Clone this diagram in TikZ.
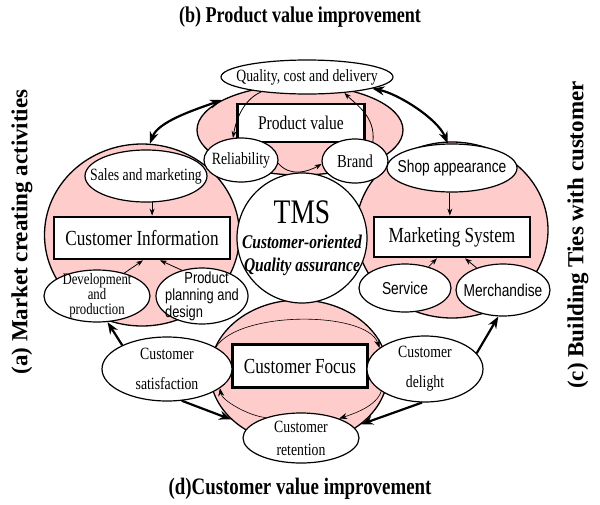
\documentclass[tikz,border=0pt]{standalone}
\usepackage{fontspec}
\setmainfont{Liberation Serif}[FakeStretch=0.8]
\setsansfont{Liberation Sans}[FakeStretch=0.8]
\newfontfamily\sidefont{Liberation Serif}
\usetikzlibrary{arrows.meta,shapes,positioning}
\definecolor{blush}{RGB}{255,204,204}
\newcommand{\fsize}[2]{\fontsize{#1}{#2}\selectfont}
\tikzset{
  %define style for the pink areas
  blob/.style={
    ellipse,
    draw=black, line width=1.3pt,
    fill=blush},
  %define style for ovals
  oval/.style={
    ellipse,
    draw=black, line width=1.2pt,
    fill=white,
    inner sep=0pt},
  %define style for the words in the ovals
  ovaltext/.style={
    inner sep=0pt,
    align=center,
    font=\fsize{17.2}{19}},
  %define style for boxes
  kbox/.style={
    rectangle,
    draw=black, line width=2.7pt,
    fill=white,
    inner sep=0pt,
    font=\fsize{21.5}{23}},
  %define style for the side titles
  sidetitle/.style={
    font=\sidefont\bfseries\fsize{23}{25},
    rotate=90},
  %define style for arrows
  bigarrow/.style={
    -{Stealth[length=12pt, width=9pt]},
    line width=2.2pt},
  bigboth/.style={
    {Stealth[length=12pt, width=9pt]}-{Stealth[length=12pt, width=9pt]},
    line width=2.2pt},
  midarrow/.style={
    -{Stealth[length=7pt, width=5pt]},
    thick},
  thinarrow/.style={
    -{Stealth[length=8pt, width=6pt]},
    semithick}
}
\begin{document}
\begin{tikzpicture}[x=1pt, y=-1pt]
\useasboundingbox (0,0) rectangle (600,504);
%titles
\node[font=\bfseries\fsize{22.6}{24}] (btitle) at (300,17) {(b) Product value improvement};
\node[font=\bfseries\fsize{23.6}{25}] (dtitle) at (300,489) {(d)Customer value improvement};
\node[sidetitle] (atitle) at (22,232) {(a) Market creating activities};
\node[sidetitle] (ctitle) at (578,235) {(c) Building Ties with customer};

%pink areas
\node[blob, minimum width=206, minimum height=90] (topblob) at (300,130) {};
\node[blob, minimum width=195, minimum height=182] (leftblob) at (142,235) {};
\node[blob, minimum width=192, minimum height=176] (rightblob) at (452,230) {};
\node[blob, minimum width=178, minimum height=144] (bottomblob) at (299,372) {};

%centre
\node[circle, draw=black, line width=1.2pt, fill=white, minimum size=130, inner sep=0pt] (tms) at (302,238) {};
\node[ovaltext, font=\fsize{19.4}{23}] (tmstxt) at (tms)
     {{\fsize{34.4}{36}TMS}\\[2pt]
      {\bfseries\itshape Customer-oriented}\\{\bfseries\itshape Quality assurance}};

%product value
\node[oval, minimum width=172, minimum height=34] (quality) at (307,77) {};
\node[ovaltext] (qualitytxt) at (quality) {Quality, cost and delivery};
\node[kbox, minimum width=127, minimum height=38, font=\fsize{19.4}{21},
      below=8pt of quality, xshift=-6pt] (pvalue) {Product value};
\node[oval, minimum width=74, minimum height=44] (reliab) at (241,160) {};
\node[ovaltext] (reliabtxt) at (reliab) {Reliability};
\node[oval, minimum width=66, minimum height=44] (brand) at (355,161) {};
\node[ovaltext, font=\fsize{18.3}{20}] (brandtxt) at (brand) {Brand};

%market creating
\node[oval, minimum width=122, minimum height=52] (sales) at (146,176) {};
\node[ovaltext] (salestxt) at (sales) {Sales and marketing};
\node[kbox, minimum width=176, minimum height=42,
      below=13pt of sales, xshift=-4pt] (cinfo) {Customer Information};
\node[oval, minimum width=106, minimum height=52] (devel) at (97,296) {};
\node[ovaltext, font=\fsize{16}{15}] (develtxt) at (devel) {Development\\and\\production};
\node[oval, minimum width=92, minimum height=56] (ppd) at (202,296) {};
\node[ovaltext, align=left, font=\sffamily\fsize{16.1}{17}] (ppdtxt) at (ppd)
     {\hspace*{1.2em}Product\\planning and\\design};

%ties with customer
\node[oval, minimum width=130, minimum height=48] (shop) at (452,168) {};
\node[ovaltext, font=\sffamily\fsize{17.2}{19}] (shoptxt) at (shop) {Shop appearance};
\node[kbox, minimum width=156, minimum height=40] (msys) at (452,237) {Marketing System};
\node[oval, minimum width=92, minimum height=48] (service) at (405,288) {};
\node[ovaltext, font=\sffamily\fsize{17.2}{19}] (servicetxt) at (service) {Service};
\node[oval, minimum width=94, minimum height=52] (merch) at (503,290) {};
\node[ovaltext, font=\sffamily\fsize{17.2}{19}] (merchtxt) at (merch) {Merchandise};

%customer value
\node[kbox, minimum width=135, minimum height=43] (cfocus) at (300,366) {Customer Focus};
\node[oval, minimum width=130, minimum height=64] (csat) at (167,369) {};
\node[ovaltext, font=\fsize{17.2}{30}] (csattxt) at (csat) {Customer\\satisfaction};
\node[oval, minimum width=116, minimum height=66] (cdel) at (425,369) {};
\node[ovaltext, font=\fsize{17.2}{30}] (cdeltxt) at (cdel) {Customer\\delight};
\node[oval, minimum width=116, minimum height=50] (cret) at (301,438) {};
\node[ovaltext, font=\fsize{17.2}{23}] (crettxt) at (cret) {Customer\\retention};

%outer cycle
\draw[bigboth] (leftblob.85) .. controls +(8,-22) and +(-28,10) .. (topblob.159);
\draw[bigboth] (quality.-10) .. controls +(25,5) and +(-10,-25) .. (shop.100);
\draw[bigarrow] (csat.152) -- (devel.-68);
\draw[bigarrow] (csat.-65) -- (bottomblob.215);
\draw[bigarrow] (cdel.17) -- (merch.-100);
\draw[bigarrow] (cdel.-95) -- (bottomblob.-40);

%inner arrows
\draw[midarrow] (quality.198) .. controls +(-18,8) and +(3,-18) .. (reliab.110);
\draw[midarrow] (reliab.-5) .. controls +(12,14) and +(-14,8) .. (brand.185);
\draw[midarrow] (brand.47) .. controls +(3,-25) and +(12,12) .. (quality.-23);
\draw[midarrow] (sales.-77) -- (sales.-77 |- cinfo.north);
\draw[midarrow] (devel.40) -- ([xshift=1pt]cinfo.south);
\draw[midarrow] (ppd.128) -- ([xshift=18pt]cinfo.south);
\draw[midarrow] (shop.-95) -- (shop.-95 |- msys.north);
\draw[midarrow] (service.42) -- ([xshift=-15pt]msys.south);
\draw[midarrow] (merch.140) -- ([xshift=13pt]msys.south);
\draw[thinarrow] (csat.24) .. controls +(23,-37) and +(-13,-37) .. (cdel.155);
\draw[thinarrow] (cdel.207) .. controls +(-5,15) and +(15,-5) .. (cret.27);
\draw[thinarrow] (cret.150) .. controls +(-18,-2) and +(2,12) .. (csat.-20);

\end{tikzpicture}
\end{document}
